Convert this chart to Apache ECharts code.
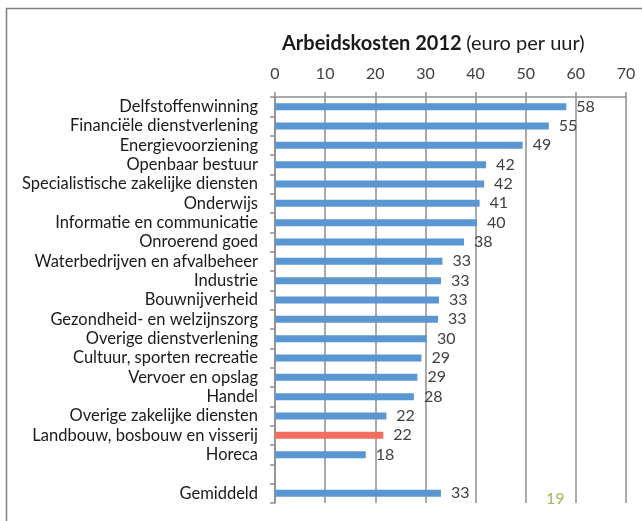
<!DOCTYPE html>
<html>
<head>
<meta charset="utf-8">
<script src="https://cdn.jsdelivr.net/npm/echarts@6/dist/echarts.min.js"></script>
<style>
  html, body { margin: 0; padding: 0; background: #fff; }
  #main { width: 642px; height: 521px; }
</style>
</head>
<body>
<div id="main"></div>
<script>
// sectoren, van boven naar beneden (lege regel voor Gemiddeld)
const sectors = [
  'Delfstoffenwinning', 'Financiële dienstverlening', 'Energievoorziening',
  'Openbaar bestuur', 'Specialistische zakelijke diensten', 'Onderwijs',
  'Informatie en communicatie', 'Onroerend goed', 'Waterbedrijven en afvalbeheer',
  'Industrie', 'Bouwnijverheid', 'Gezondheid- en welzijnszorg',
  'Overige dienstverlening', 'Cultuur, sporten recreatie', 'Vervoer en opslag',
  'Handel', 'Overige zakelijke diensten', 'Landbouw, bosbouw en visserij',
  'Horeca', '', 'Gemiddeld'
]
const costs = [58.1, 54.6, 49.4, 42.1, 41.7, 40.8, 40.3, 37.7, 33.4, 33.1, 32.7,
  32.5, 30.3, 29.2, 28.4, 27.7, 22.2, 21.6, 18.1, null, 33.1]
// afgeronde labels
const costLabels = ['58', '55', '49', '42', '42', '41', '40', '38', '33', '33', '33',
  '33', '30', '29', '29', '28', '22', '22', '18', '', '33']
const axisTicks = [0, 70, 10]
const highlight = 'Landbouw, bosbouw en visserij'

const chart = echarts.init(document.getElementById('main'))
const font = 'Lato, "Open Sans", sans-serif'
const gridColor = '#8e8e8e'

chart.setOption({
  backgroundColor: '#fff',
  animation: false,
  textStyle: {fontFamily: font},
  title: {
    text: '{b|Arbeidskosten 2012} {n|(euro per uur)}',
    left: 277,
    top: 29,
    textStyle: {
      fontWeight: 'normal',
      rich: {
        b: {fontFamily: font, fontSize: 20, fontWeight: 'bold', color: '#1a1a1a'},
        n: {fontFamily: font, fontSize: 20, fontWeight: 'normal', color: '#1a1a1a'}
      }
    }
  },
  graphic: [
    {
      type: 'rect',
      shape: {x: 6.5, y: 8.5, width: 700, height: 600},
      style: {fill: 'none', stroke: '#7f7f7f', lineWidth: 1.5},
      silent: true
    },
    {
      type: 'text',
      left: 546,
      top: 491,
      style: {text: '19', fill: '#9bbb59', font: '16px ' + font}
    }
  ],
  grid: {left: 275, right: 16, top: 97, bottom: 18, containLabel: false},
  xAxis: {
    type: 'value',
    position: 'top',
    min: axisTicks[0],
    max: axisTicks[1],
    interval: axisTicks[2],
    axisLine: {show: true, lineStyle: {color: gridColor, width: 1.5}},
    axisTick: {show: true, length: 5, lineStyle: {color: gridColor, width: 1.5}},
    axisLabel: {color: '#404040', fontSize: 16, margin: 15, fontFamily: font},
    splitLine: {show: true, lineStyle: {color: gridColor, width: 1.5}}
  },
  yAxis: {
    type: 'category',
    inverse: true,
    data: sectors,
    axisLine: {show: true, lineStyle: {color: gridColor, width: 1.5}},
    axisTick: {show: true, length: 5, interval: 0, lineStyle: {color: gridColor, width: 1.5}},
    axisLabel: {color: '#1a1a1a', fontSize: 16.5, margin: 17, interval: 0, fontFamily: font}
  },
  series: [{
    type: 'bar',
    barWidth: 7,
    data: costs.map((v, i) => ({
      value: v,
      itemStyle: {color: sectors[i] === highlight ? '#f26e5f' : '#5a96d2'}
    })),
    label: {
      show: true,
      position: 'right',
      distance: 10,
      color: '#404040',
      fontSize: 16,
      fontFamily: font,
      formatter: p => costLabels[p.dataIndex]
    }
  }]
})
</script>
</body>
</html>
